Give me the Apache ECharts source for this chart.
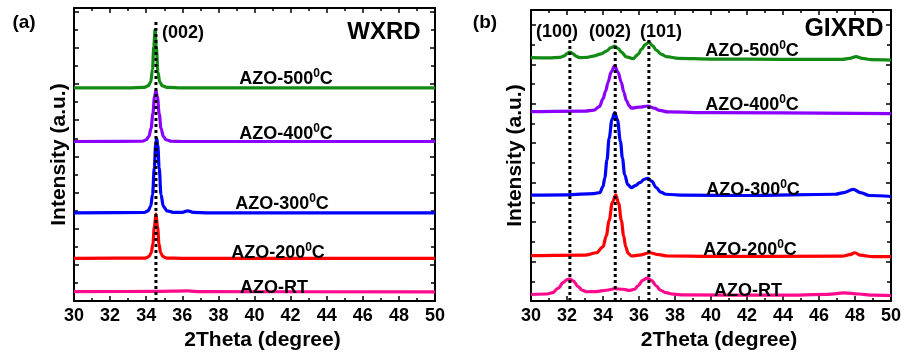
<!DOCTYPE html>
<html>
<head>
<meta charset="utf-8">
<script src="https://cdn.jsdelivr.net/npm/echarts@6/dist/echarts.min.js"></script>
<style>
  html, body { margin: 0; padding: 0; background: #fff; }
  #chart { width: 904px; height: 356px; }
</style>
</head>
<body>
<div id="chart"></div>
<script>
// data: [2theta, intensity (a.u., curves offset vertically)]
var wx500 = [[30,216],[33,216],[33.9,216.5],[34.1,218],[34.25,222],[34.35,235],[34.42,258],[34.49,275],[34.56,258],[34.65,232],[34.75,222],[34.9,218],[35.2,216.5],[36,216],[50,216]];
var wx400 = [[30,161.7],[33.8,162],[34.0,163.5],[34.15,167],[34.27,175],[34.37,190],[34.46,207],[34.54,213.3],[34.62,207],[34.72,190],[34.82,175],[34.95,167],[35.1,163.5],[35.4,162],[36,161.7],[50,161.7]];
var wx300 = [[30,89.3],[33.9,89.8],[34.1,91.5],[34.25,96],[34.35,108],[34.45,135],[34.52,158],[34.58,165],[34.64,158],[34.72,135],[34.82,108],[34.95,96],[35.15,91.5],[35.5,90],[36.0,90],[36.3,91.5],[36.6,90],[37.5,89.3],[50,89.3]];
var wx200 = [[30,43.3],[33.95,43.6],[34.15,45],[34.28,49],[34.37,58],[34.45,75],[34.54,88.3],[34.63,75],[34.71,58],[34.8,49],[34.93,45],[35.15,43.6],[36,43.3],[50,43.3]];
var wxRT = [[30,9.5],[34.5,9.8],[36.3,10.3],[37,9.5],[50,9.3]];

var gi500 = [[30,246.7],[31.0,246.5],[31.6,247],[31.85,248.5],[32.0,250.8],[32.16,252.3],[32.32,250.8],[32.5,248.3],[32.7,246.7],[33.1,247],[33.45,248.3],[33.9,250.5],[34.19,253.3],[34.45,257],[34.65,258.3],[34.85,256],[35.02,252.3],[35.3,247.5],[35.67,245.7],[35.95,250],[36.13,255],[36.35,260],[36.55,262.3],[36.75,259],[36.96,254.3],[37.25,250],[37.52,247.7],[38.2,246],[40,245.3],[44,245],[47.3,245],[47.7,246],[48.06,247.7],[48.4,246],[48.9,244.7],[50,244.3]];
var gi400 = [[30,192],[33.0,192.5],[33.5,193.5],[33.8,197],[34.0,205],[34.15,213],[34.28,221.7],[34.45,232],[34.65,238.3],[34.83,232],[35.02,221.7],[35.15,212],[35.3,203.3],[35.45,198],[35.58,195.5],[36.0,196.5],[36.5,197.7],[36.85,195.5],[37.15,193.3],[37.6,191.7],[40,191],[50,190]];
var gi300 = [[30,107.3],[32,107.7],[33.5,109],[33.82,110],[34.0,116],[34.1,125],[34.22,143],[34.34,165],[34.5,184],[34.65,191],[34.8,184],[34.97,161.7],[35.08,145],[35.2,128.3],[35.38,118],[35.58,115],[35.8,117],[36.04,120],[36.3,123.5],[36.5,124.3],[36.7,121.5],[36.96,115],[37.2,110.5],[37.5,108.3],[38.5,107.3],[42,107],[46.9,108.3],[47.4,110],[47.9,113.3],[48.3,110],[48.8,107],[50,106]];
var gi200 = [[30,46],[33.0,46.5],[33.64,49],[34.0,55],[34.18,66],[34.34,81.7],[34.52,100],[34.71,107.7],[34.87,99],[35.02,81.7],[35.15,66],[35.26,55],[35.4,48.5],[35.58,45.7],[36.0,46.5],[36.6,49],[37.1,47],[37.6,45.7],[40,45.3],[47.3,45.5],[47.7,47],[48.0,49],[48.3,46.5],[49,45],[50,45]];
var giRT = [[30,6.7],[30.9,7.2],[31.2,8.5],[31.5,13],[31.8,19],[32.0,21.8],[32.16,22.3],[32.35,20.5],[32.6,15],[32.85,11],[33.1,9.5],[33.6,9.7],[34.19,11],[34.65,12.5],[35.1,12],[35.5,10.8],[35.75,12],[35.95,15.5],[36.2,21],[36.45,23.3],[36.7,21],[36.95,15.5],[37.2,11],[37.5,8.5],[37.9,7],[38.5,6.3],[44,6],[46.5,6.8],[47.4,8.3],[48.2,7.2],[49,6],[50,5.7]];

var peaksA = [34.54];
var peaksB = [32.16, 34.68, 36.55];
var peakNamesA = ['(002)'];
var peakNamesB = ['(100)', '(002)', '(101)'];
var sampleNames = ['AZO-500', 'AZO-400', 'AZO-300', 'AZO-200', 'AZO-RT'];
var colors = ['#138a13', '#8a00ff', '#0000ff', '#ff0000', '#ff0a8c'];

var FONT = 'Liberation Sans, Arial, sans-serif';
var myChart = echarts.init(document.getElementById('chart'));

function xAx(grid, pos) {
    return {
        type: 'value', gridIndex: grid, position: pos, min: 30, max: 50, interval: 2,
        axisLine: { show: true, onZero: false, lineStyle: { color: '#000', width: 2 } },
        axisTick: { show: true, inside: true, length: 5, lineStyle: { color: '#000', width: 1.5 } },
        minorTick: { show: true, splitNumber: 2, length: 3, lineStyle: { color: '#000', width: 1.5 } },
        axisLabel: { show: pos === 'bottom', color: '#000', fontFamily: FONT, fontWeight: 'bold', fontSize: 18, margin: 6 },
        splitLine: { show: false },
        name: pos === 'bottom' ? '2Theta (degree)' : '',
        nameLocation: 'middle', nameGap: 27,
        nameTextStyle: { color: '#000', fontFamily: FONT, fontWeight: 'bold', fontSize: 21, padding: [0, 0, 0, 16] }
    };
}
function yAx(grid, pos, max, step, gap) {
    return {
        type: 'value', gridIndex: grid, position: pos, min: 0, max: max, interval: step,
        axisLine: { show: true, onZero: false, lineStyle: { color: '#000', width: 2 } },
        axisTick: { show: true, inside: true, length: 5, lineStyle: { color: '#000', width: 1.5 } },
        minorTick: { show: true, splitNumber: 2, length: 4, lineStyle: { color: '#000', width: 1.5 } },
        axisLabel: { show: false },
        splitLine: { show: false },
        name: pos === 'left' ? 'Intensity (a.u.)' : '',
        nameLocation: 'middle', nameGap: gap,
        nameTextStyle: { color: '#000', fontFamily: FONT, fontWeight: 'bold', fontSize: 21 }
    };
}

var seriesA = [wx500, wx400, wx300, wx200, wxRT];
var seriesB = [gi500, gi400, gi300, gi200, giRT];
var series = [];
seriesA.forEach(function(d, i) {
    series.push({ type: 'line', xAxisIndex: 0, yAxisIndex: 0, data: d, showSymbol: false, smooth: 0.35, smoothMonotone: 'x',
        lineStyle: { color: colors[i], width: 3.2 }, silent: true, z: 2 });
});
seriesB.forEach(function(d, i) {
    series.push({ type: 'line', xAxisIndex: 2, yAxisIndex: 2, data: d, showSymbol: false, smooth: 0.35, smoothMonotone: 'x',
        lineStyle: { color: colors[i], width: 3.2 }, silent: true, z: 2 });
});
// dotted reflection lines
peaksA.forEach(function(p) {
    series.push({ type: 'line', xAxisIndex: 0, yAxisIndex: 0, data: [[p, 0], [p, 283]], showSymbol: false,
        lineStyle: { color: '#000', width: 3, type: [3, 3] }, silent: true, z: 5 });
});
peaksB.forEach(function(p) {
    series.push({ type: 'line', xAxisIndex: 2, yAxisIndex: 2, data: [[p, 0], [p, 265]], showSymbol: false,
        lineStyle: { color: '#000', width: 3, type: [3, 3] }, silent: true, z: 5 });
});

function txt(x, y, s, size) {
    return { type: 'text', x: x, y: y, style: { text: s, fill: '#000', font: 'bold ' + size + 'px ' + FONT, align: 'center', verticalAlign: 'middle' }, z: 10 };
}
function sample(x, y, name) {
    var hasT = name !== 'AZO-RT';
    return { type: 'text', x: x, y: y, z: 10, style: {
        text: hasT ? '{n|' + name + '}{s|0}{n|C}' : '{n|' + name + '}',
        align: 'center', verticalAlign: 'middle',
        rich: {
            n: { fontFamily: FONT, fontWeight: 'bold', fontSize: 18, fill: '#000', lineHeight: 20, verticalAlign: 'bottom' },
            s: { fontFamily: FONT, fontWeight: 'bold', fontSize: 12, fill: '#000', lineHeight: 20, verticalAlign: 'top', padding: [0, 0, 10, 0] }
        }
    } };
}

var posA = [[286, 78], [286, 133], [282, 203], [278, 252], [274, 287]];
var posB = [[752, 50], [752, 104], [753, 189], [750, 249], [748, 290]];
var graphics = [txt(24, 23, '(a)', 19), txt(485, 23, '(b)', 19), txt(384, 32, 'WXRD', 24), txt(844, 29, 'GIXRD', 25),
    txt(183, 33, peakNamesA[0], 18), txt(557, 32, peakNamesB[0], 18), txt(610, 32, peakNamesB[1], 18), txt(661, 32, peakNamesB[2], 18)];
sampleNames.forEach(function(n, i) {
    graphics.push(sample(posA[i][0], posA[i][1], n));
    graphics.push(sample(posB[i][0], posB[i][1], n));
});

var option = {
    animation: false,
    backgroundColor: '#fff',
    grid: [
        { left: 74, top: 8, width: 361, height: 297 },
        { left: 531, top: 10, width: 361, height: 295 }
    ],
    xAxis: [xAx(0, 'bottom'), xAx(0, 'top'), xAx(1, 'bottom'), xAx(1, 'top')],
    yAxis: [yAx(0, 'left', 297, 36.67, 4), yAx(0, 'right', 297, 36.67, 4), yAx(1, 'left', 295, 40, 5), yAx(1, 'right', 295, 40, 5)],
    series: series,
    graphic: graphics
};
myChart.setOption(option);
</script>
</body>
</html>
